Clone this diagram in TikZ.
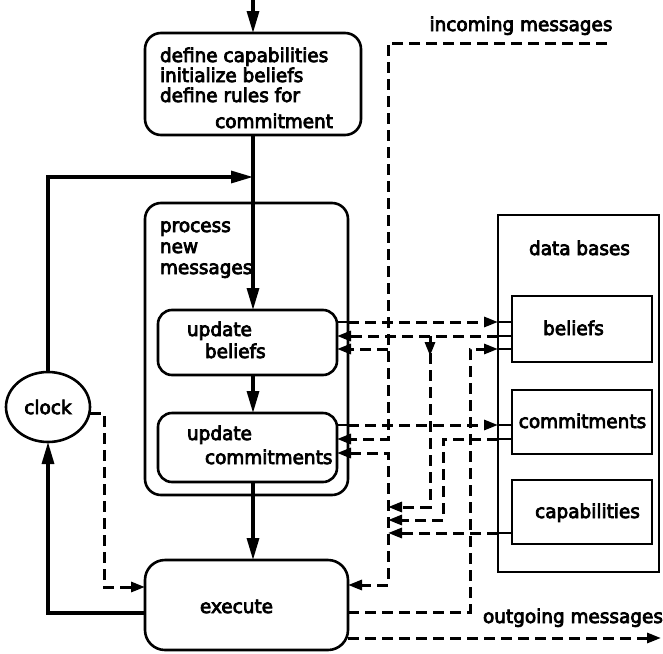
\documentclass[tikz,border=0pt]{standalone}
\usepackage{fontspec}
\setmainfont{DejaVu Sans}[FakeBold=4, FakeStretch=0.97]
\usetikzlibrary{arrows.meta,shapes.geometric,decorations.markings}

\begin{document}
\begin{tikzpicture}[x=1pt,y=-1pt,
  every node/.style={font=\fontsize{19pt}{22pt}\selectfont, inner sep=0pt, outer sep=0pt},
  rbox/.style={draw, line width=2.6pt, rectangle, rounded corners=#1},
  rbox/.default=16pt,
  sbox/.style={draw, line width=2.6pt, rectangle},
  lbl/.style={anchor=base west},
  lblc/.style={anchor=base},
  ftip/.tip={Triangle[length=22pt,width=12pt]},
  dtip/.tip={Triangle[length=14pt,width=10pt]},
  flow/.style={line width=3.2pt},
  dline/.style={line width=3pt, dash pattern=on 11pt off 6pt},
  stub/.style={line width=2.6pt},
]
\fill[white] (0,0) rectangle (663,653);
\useasboundingbox (0,0) rectangle (663,653);

% ---- boxes ----
\node[rbox, minimum width=216pt, minimum height=102pt] (init) at (253,84) {};
\node[rbox, minimum width=203pt, minimum height=292pt] (proc) at (246.5,349) {};
\node[rbox=14pt, minimum width=179pt, minimum height=65pt] (ub) at (247.5,342.5) {};
\node[rbox=14pt, minimum width=179pt, minimum height=69pt] (uc) at (247.5,447.5) {};
\node[rbox=20pt, minimum width=203pt, minimum height=90pt] (exe) at (246.5,605) {};
\node[draw, ellipse, line width=2.6pt, minimum width=84pt, minimum height=70pt] (clock) at (48,407) {clock};
\node[sbox, minimum width=161pt, minimum height=357pt] (db) at (578.5,393.5) {};
\node[sbox, minimum width=140pt, minimum height=66pt] (dbb) at (582,329) {};
\node[sbox, minimum width=140pt, minimum height=64pt] (dbc) at (582,422) {};
\node[sbox, minimum width=140pt, minimum height=64pt] (dbk) at (582,512) {};

% ---- labels ----
\node[lbl] (t1) at (160,62) {define capabilities};
\node[lbl] (t2) at (160,82) {initialize beliefs};
\node[lbl] (t3) at (160,102) {define rules for};
\node[anchor=base east] (t4) at (333,128) {commitment};
\node[lbl] (t5) at (160,232) {process};
\node[lbl] (t6) at (160,253) {new};
\node[lbl] (t7) at (160,274) {messages};
\node[lbl] (t8) at (187,336) {update};
\node[lbl] (t9) at (205,358) {beliefs};
\node[lbl] (t10) at (187,440) {update};
\node[lbl] (t11) at (205,464) {commitments};
\node[lbl] (t12) at (200,613) {execute};
\node[lblc] (t13) at (579.5,255) {data bases};
\node[lblc] (t14) at (573.5,335) {beliefs};
\node[lblc] (t15) at (582.5,428) {commitments};
\node[lblc] (t16) at (587.5,518) {capabilities};
\node[lblc] (t17) at (521,31) {incoming messages};
\node[lblc] (t18) at (573,623) {outgoing messages};

% ---- control flow ----
\coordinate (top) at (253,0);
\coordinate (loopL) at (48,613);
\coordinate (loopT) at (48,177);
\draw[flow, -{ftip}] (top) -- (init.north);
\draw[flow, -{ftip}] (init.south) -- (init.south |- ub.north);
\draw[flow, -{ftip}] (ub.south -| init.south) -- (uc.north -| init.south);
\draw[flow, -{ftip}] (uc.south -| init.south) -- (exe.north -| init.south);
\draw[flow, -{ftip}] (exe.west |- loopL) -- (loopL) -- (clock.south);
\draw[flow, -{ftip}] (clock.north) -- (loopT) -- (loopT -| init.south);

% ---- incoming messages ----
\coordinate (inR) at (607,43);
\coordinate (inC) at (388,43);
\coordinate (busA) at (388,349);
\coordinate (busB) at (388,439);
\draw[dline, -{dtip}] (inR) -- (inC) -- (busB) -- (busB -| uc.east);
\draw[dline, -{dtip}] (busA) -- (busA -| ub.east);

% ---- update beliefs writes beliefs ----
\coordinate (pA) at (348,322);
\coordinate (dA) at (498,322);
\draw[stub] (pA -| ub.east) -- (pA);
\draw[dline, -{dtip}] (pA) -- (dA);
\draw[stub] (dA) -- (dA -| dbb.west);

% ---- beliefs read back ----
\coordinate (dB) at (498,336);
\coordinate (jB) at (430,336);
\coordinate (jB2) at (430,507);
\coordinate (busC) at (388,507);
\draw[stub] (dbb.west |- dB) -- (dB);
\draw[dline, -{dtip}] (dB) -- (dB -| ub.east);
\draw[dline, -{dtip}, postaction={decorate, decoration={markings, mark=at position 20pt with {\arrow{dtip}}}}] (jB) -- (jB2) -- (busC);

% ---- execute writes beliefs ----
\coordinate (dC) at (498,349);
\coordinate (xC) at (470,349);
\coordinate (xE) at (470,612);
\draw[dline, -{dtip}] (exe.east |- xE) -- (xE) -- (xC) -- (dC);
\draw[stub] (dC) -- (dC -| dbb.west);

% ---- update commitments writes commitments ----
\coordinate (pD) at (348,425);
\coordinate (dD) at (498,425);
\draw[stub] (pD -| uc.east) -- (pD);
\draw[dline, -{dtip}] (pD) -- (dD);
\draw[stub] (dD) -- (dD -| dbc.west);

% ---- commitments read back ----
\coordinate (dE) at (498,439);
\coordinate (jE) at (443,439);
\coordinate (jE2) at (443,520);
\coordinate (busD) at (388,520);
\draw[stub] (dbc.west |- dE) -- (dE);
\draw[dline, -{dtip}] (dE) -- (jE) -- (jE2) -- (busD);

% ---- capabilities read ----
\coordinate (dF) at (498,533);
\coordinate (busE) at (388,533);
\draw[stub] (dbk.west |- dF) -- (dF);
\draw[dline, -{dtip}] (dF) -- (busE);

% ---- data bus to update commitments and execute ----
\coordinate (busT) at (388,453);
\coordinate (busX) at (388,585);
\draw[dline, {dtip}-{dtip}] (busT -| uc.east) -- (busT) -- (busX) -- (busX -| exe.east);

% ---- clock trigger ----
\coordinate (ckA) at (104,413);
\coordinate (ckB) at (104,587);
\draw[dline, -{dtip}] (clock.east |- ckA) -- (ckA) -- (ckB) -- (ckB -| exe.west);

% ---- outgoing messages ----
\coordinate (outE) at (661,638);
\draw[dline, -{dtip}] (exe.east |- outE) -- (outE);
\end{tikzpicture}
\end{document}
